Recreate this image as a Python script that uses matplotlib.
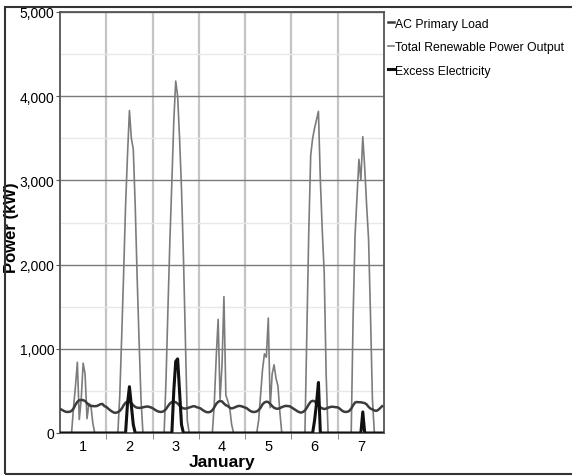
'''HOMER-style week plot: load, renewable output and excess electricity
'''
import matplotlib
matplotlib.use('Agg')
import matplotlib.pyplot as plt
from matplotlib.patches import Rectangle

# hourly values (kW), one row per day of the week
ac_load = (
    [285, 275, 262, 252, 250, 252, 262, 290, 335, 370, 390, 392, 390, 380, 355, 330, 322, 320, 318, 320, 330, 342, 345, 320] +
    [310, 290, 270, 255, 242, 240, 248, 262, 290, 330, 360, 372, 368, 355, 330, 310, 300, 298, 300, 305, 310, 315, 312, 305] +
    [295, 280, 265, 255, 250, 252, 262, 285, 320, 350, 368, 372, 365, 350, 325, 305, 292, 290, 295, 302, 310, 318, 316, 305] +
    [300, 290, 272, 258, 248, 246, 252, 270, 305, 345, 370, 380, 375, 350, 330, 320, 300, 292, 298, 308, 318, 322, 318, 310] +
    [302, 292, 272, 258, 250, 250, 256, 272, 300, 340, 362, 372, 368, 345, 320, 300, 290, 288, 296, 306, 316, 322, 320, 318] +
    [305, 290, 275, 260, 248, 242, 250, 268, 300, 340, 372, 382, 378, 350, 320, 305, 292, 285, 290, 300, 308, 312, 310, 306] +
    [305, 290, 270, 255, 250, 252, 262, 290, 330, 362, 368, 365, 365, 360, 355, 340, 310, 290, 280, 268, 262, 275, 295, 318]
)
renewable = (
    [0, 0, 0, 0, 0, 0, 0, 300, 550, 840, 160, 400, 830, 700, 170, 350, 330, 120, 0, 0, 0, 0, 0, 0] +
    [0, 0, 0, 0, 0, 0, 0, 450, 1150, 1900, 2700, 3300, 3830, 3500, 3370, 2700, 1850, 1100, 400, 0, 0, 0, 0, 0] +
    [0, 0, 0, 0, 0, 0, 0, 650, 1500, 2300, 2980, 3700, 4180, 4000, 3500, 2900, 2100, 1100, 150, 0, 0, 0, 0, 0] +
    [0, 0, 0, 0, 0, 0, 0, 0, 350, 900, 1350, 400, 800, 1620, 450, 380, 300, 100, 0, 0, 0, 0, 0, 0] +
    [0, 0, 0, 0, 0, 0, 0, 150, 450, 750, 940, 900, 1365, 300, 700, 810, 650, 560, 250, 0, 0, 0, 0, 0] +
    [0, 0, 0, 0, 0, 0, 0, 0, 1200, 2400, 3300, 3500, 3620, 3720, 3820, 3000, 2400, 1900, 700, 0, 0, 0, 0, 0] +
    [0, 0, 0, 0, 0, 0, 0, 0, 1400, 2350, 2800, 3250, 3000, 3520, 3150, 2700, 2300, 1400, 400, 0, 0, 0, 0, 0]
)
excess = (
    [0] * 24 +
    [0, 0, 0, 0, 0, 0, 0, 0, 0, 0, 0, 350, 550, 330, 100, 0, 0, 0, 0, 0, 0, 0, 0, 0] +
    [0, 0, 0, 0, 0, 0, 0, 0, 0, 0, 0, 500, 850, 880, 500, 100, 0, 0, 0, 0, 0, 0, 0, 0] +
    [0] * 24 +
    [0] * 24 +
    [0, 0, 0, 0, 0, 0, 0, 0, 0, 0, 0, 0, 150, 350, 600, 0, 0, 0, 0, 0, 0, 0, 0, 0] +
    [0, 0, 0, 0, 0, 0, 0, 0, 0, 0, 0, 0, 0, 250, 0, 0, 0, 0, 0, 0, 0, 0, 0, 0]
)
day_labels = ['1', '2', '3', '4', '5', '6', '7']
series_names = ['AC Primary Load', 'Total Renewable Power Output', 'Excess Electricity']

plt.rcParams['font.family'] = ['Liberation Sans', 'DejaVu Sans']

hours = list(range(len(ac_load)))

fig = plt.figure(figsize=(5.72, 4.77), dpi=100)
ax = fig.add_axes([60 / 572, 43 / 477, 324 / 572, 421 / 477])

ax.plot(hours, renewable, color='#7c7c7c', lw=1.2, label=series_names[1], zorder=3)
ax.plot(hours, ac_load, color='#3c3c3c', lw=1.8, label=series_names[0], zorder=4)
ax.plot(hours, excess, color='#111111', lw=2.2, label=series_names[2], zorder=5)

ax.set_xlim(0, 168)
ax.set_ylim(0, 5000)

ax.set_xticks([12 + 24 * i for i in range(7)])
ax.set_xticklabels(day_labels, fontsize=10.5)
ax.set_xticks([24 * i for i in range(1, 7)], minor=True)
ax.tick_params(axis='x', which='major', length=0, pad=4)
ax.tick_params(axis='x', which='minor', length=4, color='#777777')

ax.set_yticks([0, 1000, 2000, 3000, 4000, 5000])
ax.set_yticklabels(['0', '1,000', '2,000', '3,000', '4,000', '5,000'], fontsize=10)
ax.set_yticks([500, 1500, 2500, 3500, 4500], minor=True)
ax.tick_params(axis='y', which='major', length=3, color='#555555', pad=1)
ax.tick_params(axis='y', which='minor', length=0)

ax.grid(axis='y', which='major', color='#7a7a7a', lw=1.0)
ax.grid(axis='y', which='minor', color='#e8e8e8', lw=1.0)
ax.grid(axis='x', which='minor', color='#c4c4c4', lw=1.6)
ax.set_axisbelow(True)

for sp in ax.spines.values():
    sp.set_color('#555555')
    sp.set_linewidth(1.3)

ax.set_xlabel('January', fontsize=12.5, fontweight='bold', labelpad=1)
ax.set_ylabel('Power (kW)', fontsize=12, fontweight='bold')
ax.yaxis.set_label_coords(-0.125, 0.49)

handles, labels = ax.get_legend_handles_labels()
order = [1, 0, 2]
ax.legend([handles[i] for i in order], [labels[i] for i in order],
          loc='upper left', bbox_to_anchor=(1.0, 0.997), frameon=False,
          handlelength=0.45, handletextpad=0.1, labelspacing=0.95,
          borderaxespad=0.05, borderpad=0.3, fontsize=8.8)

# outer frame around the whole picture
fig.patches.append(Rectangle((5 / 572, 2 / 477), 1.0, 467 / 477,
                             transform=fig.transFigure, fill=False,
                             edgecolor='#333333', lw=1.5))

plt.savefig('out.png', dpi=100)
